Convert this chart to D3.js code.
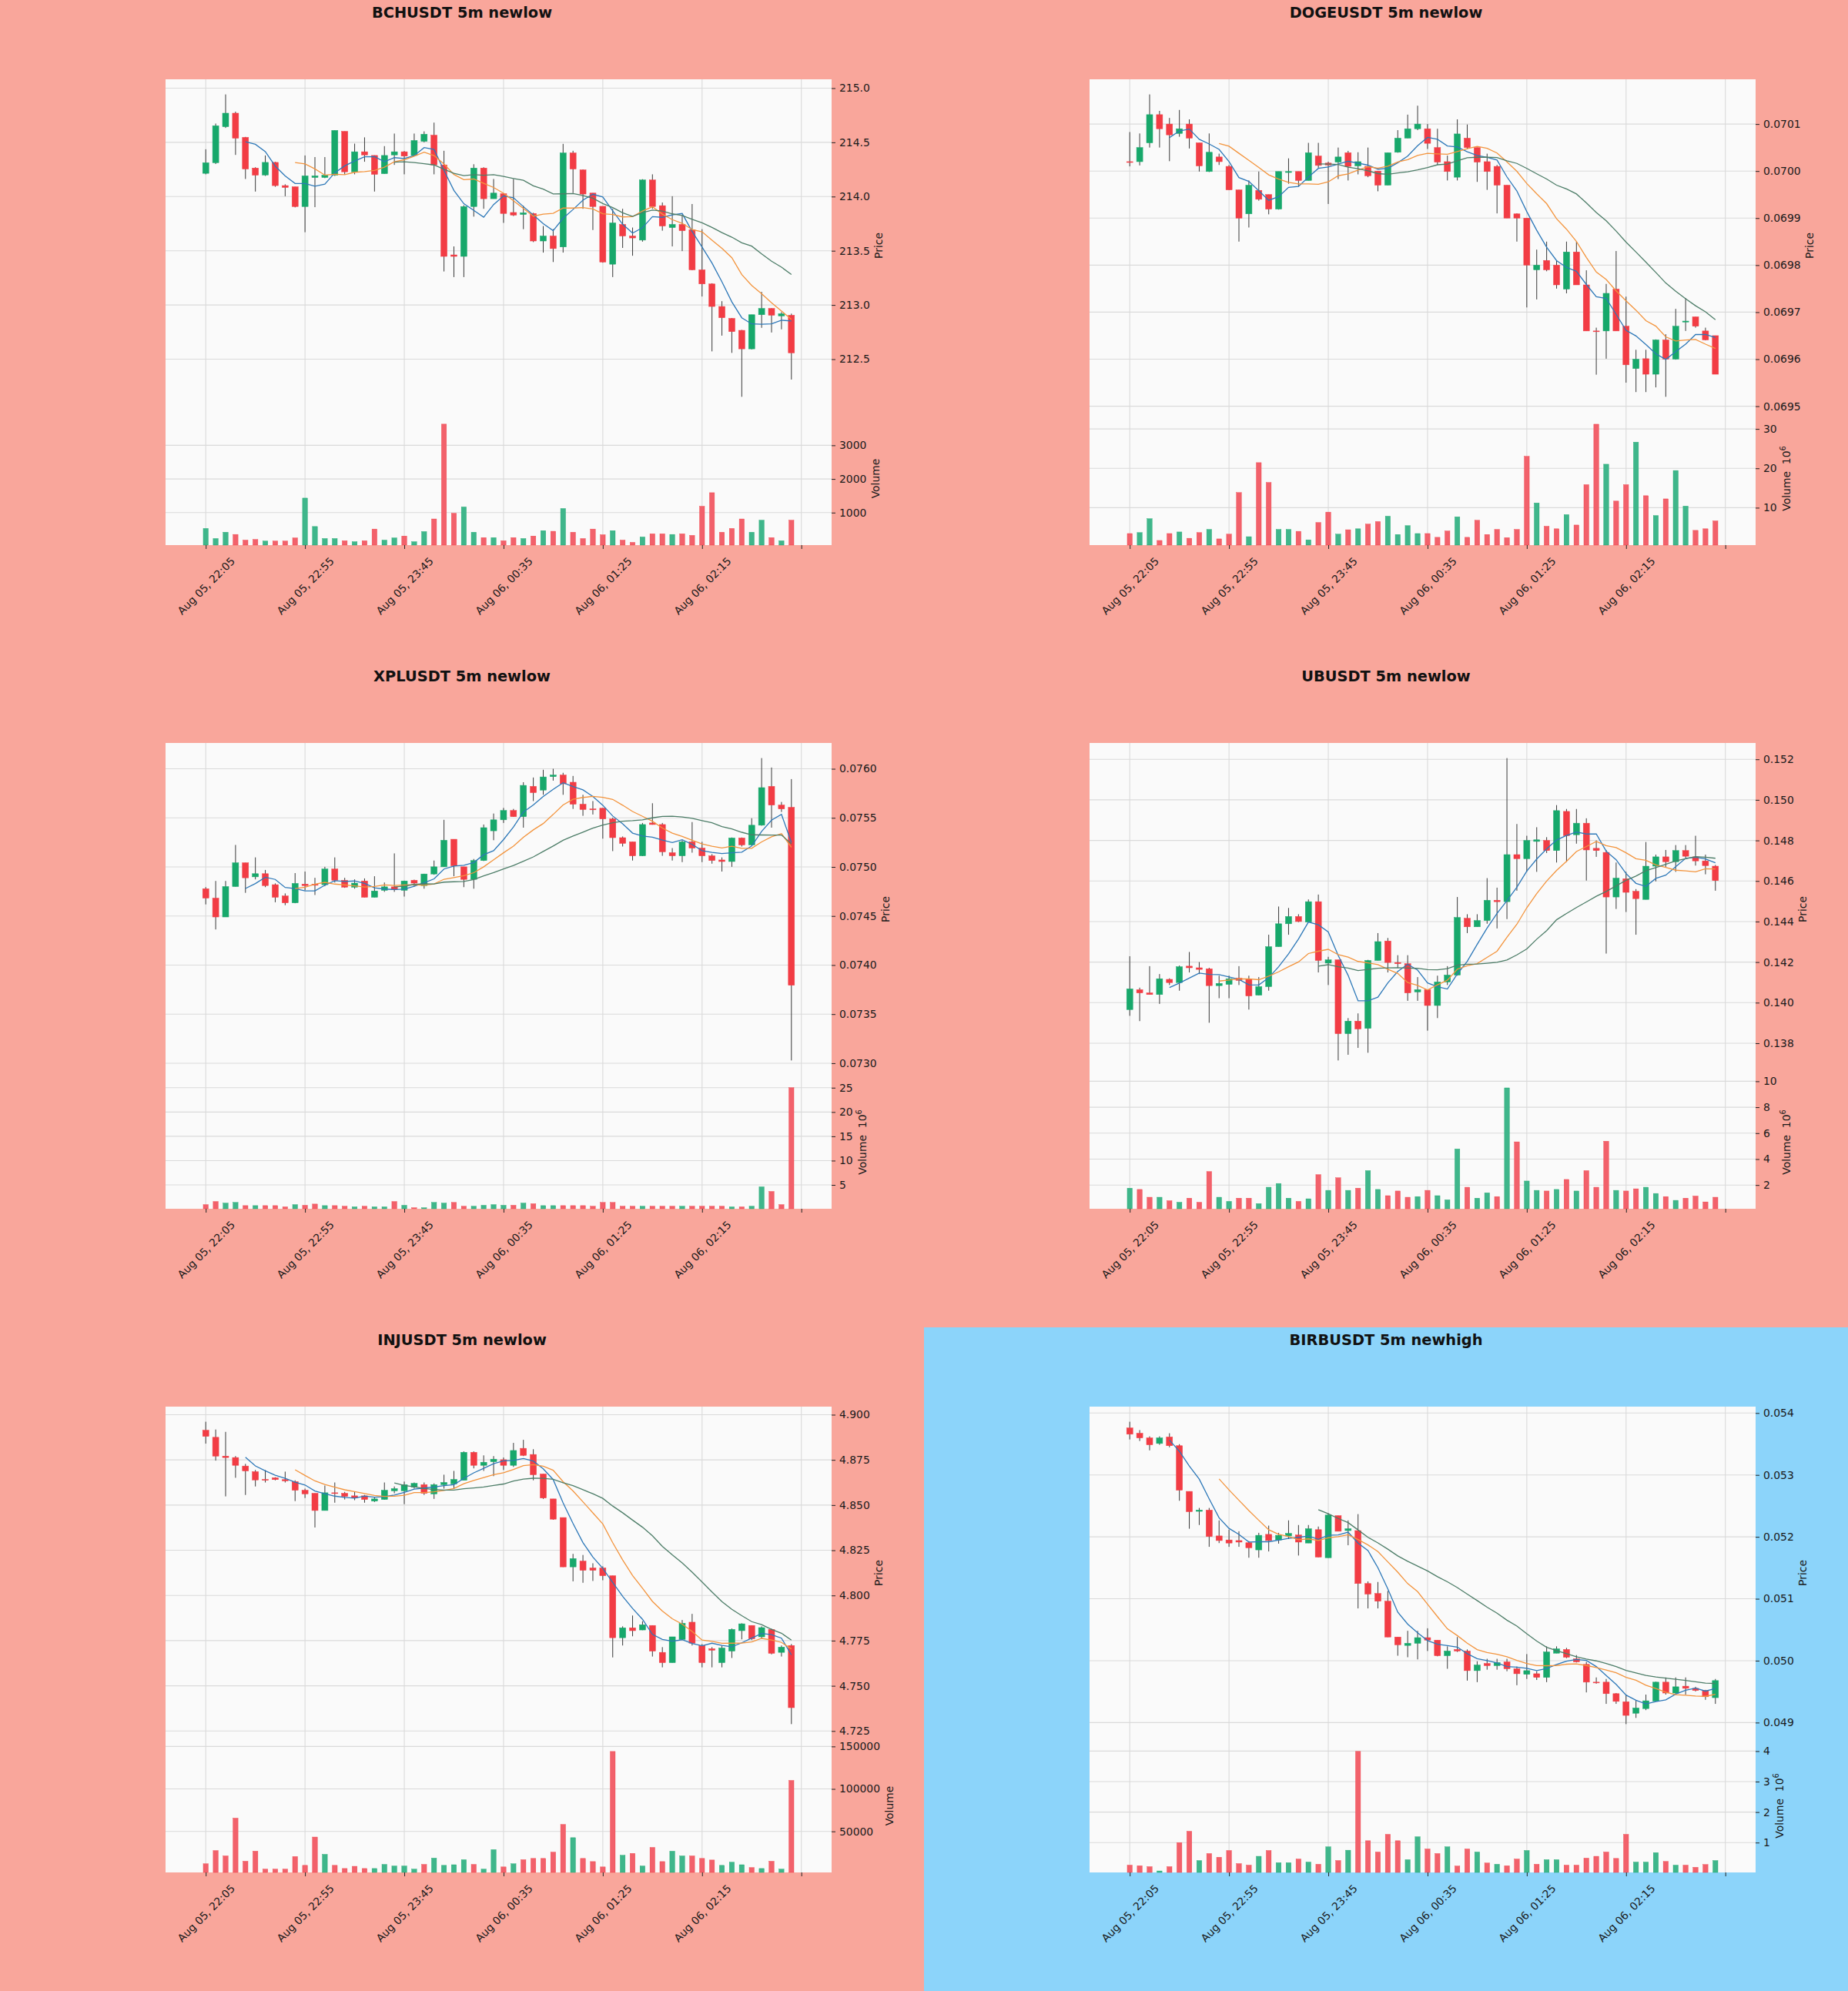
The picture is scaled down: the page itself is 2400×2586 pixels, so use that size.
<!DOCTYPE html>
<html>
<head>
<meta charset="utf-8">
<script src="https://cdn.jsdelivr.net/npm/d3@7"></script>
<style>
  body { margin: 0; background: #ffffff; }
  svg { display: block; }
</style>
</head>
<body>
<div id="chart"></div>
<script>
// ---- data: 60 five-minute candles per symbol ----
const timeTicks = [0, 10, 20, 30, 40, 50, 60];
const timeLabels = ["Aug 05, 22:05", "Aug 05, 22:55", "Aug 05, 23:45", "Aug 06, 00:35", "Aug 06, 01:25", "Aug 06, 02:15", ""];

// BCHUSDT
const bchOpen = [214.214,214.312,214.644,214.769,214.546,214.263,214.199,214.315,214.101,214.090,213.908,214.176,214.176,214.197,214.601,214.228,214.413,214.379,214.211,214.384,214.413,214.379,214.509,214.566,214.292,213.462,213.448,213.908,214.263,213.980,214.026,213.853,213.835,213.844,213.590,213.636,213.535,214.402,214.246,214.032,213.910,213.376,213.743,213.636,213.598,214.153,213.916,213.714,213.743,213.694,213.324,213.194,212.986,212.876,212.766,212.595,212.910,212.968,212.899,212.905];
const bchHigh = [214.436,214.673,214.942,214.783,214.550,214.270,214.379,214.320,214.113,214.090,214.379,214.364,214.364,214.610,214.601,214.488,214.546,214.380,214.465,214.581,214.420,214.581,214.601,214.682,214.422,213.540,213.920,214.298,214.270,214.162,214.030,214.162,213.916,213.850,213.728,213.699,214.486,214.422,214.250,214.032,213.910,213.887,213.887,213.714,214.160,214.205,213.945,214.003,213.829,213.931,213.699,213.200,213.035,212.880,212.770,212.910,213.121,212.970,212.934,212.920];
const bchLow = [214.205,214.300,214.633,214.384,214.162,214.046,214.190,214.090,214.003,213.900,213.671,213.902,214.170,214.190,214.205,214.205,214.321,214.046,214.210,214.292,214.205,214.380,214.500,214.205,213.309,213.257,213.257,213.815,213.887,213.980,213.757,213.820,213.699,213.580,213.483,213.396,213.483,214.032,213.887,213.691,213.390,213.257,213.526,213.454,213.584,213.887,213.685,213.540,213.497,213.320,213.078,212.572,212.717,212.558,212.153,212.590,212.789,212.746,212.775,212.312];
const bchClose = [214.312,214.653,214.769,214.538,214.254,214.197,214.315,214.101,214.084,213.908,214.191,214.191,214.197,214.610,214.228,214.413,214.384,214.205,214.379,214.413,214.373,214.517,214.575,214.292,213.448,213.448,213.908,214.263,213.980,214.032,213.844,213.829,213.850,213.590,213.636,213.520,214.402,214.254,214.023,213.908,213.396,213.757,213.636,213.618,214.153,213.908,213.728,213.743,213.685,213.324,213.194,212.986,212.882,212.754,212.595,212.910,212.968,212.905,212.919,212.558];
const bchVolume = [530,230,418,352,183,202,155,155,155,249,1432,587,230,230,164,136,164,512,183,249,305,136,437,812,3629,981,1169,418,258,258,164,258,230,305,465,446,1122,418,230,512,343,465,183,117,277,371,371,352,371,324,1188,1592,418,530,812,418,775,258,164,775];
const bchPriceTicks = [212.5, 213.0, 213.5, 214.0, 214.5, 215.0];
const bchVolumeTicks = [1000, 2000, 3000];

// DOGEUSDT
const dogeOpen = [0.070020,0.070020,0.070060,0.070120,0.070100,0.070080,0.070100,0.070060,0.069999,0.070030,0.070010,0.069960,0.069909,0.069959,0.069950,0.069919,0.069997,0.069999,0.069980,0.070032,0.070017,0.070019,0.070039,0.070011,0.070010,0.070000,0.069970,0.070040,0.070070,0.070090,0.070090,0.070050,0.070020,0.069987,0.070070,0.070050,0.070020,0.070010,0.069970,0.069909,0.069900,0.069790,0.069810,0.069800,0.069749,0.069828,0.069758,0.069660,0.069660,0.069749,0.069670,0.069580,0.069601,0.069568,0.069641,0.069600,0.069679,0.069690,0.069660,0.069650];
const dogeHigh = [0.070083,0.070080,0.070163,0.070128,0.070113,0.070130,0.070110,0.070060,0.070080,0.070037,0.070013,0.069960,0.069980,0.069999,0.069950,0.069999,0.070027,0.069999,0.070060,0.070060,0.070020,0.070050,0.070043,0.070040,0.070050,0.070000,0.070039,0.070087,0.070120,0.070139,0.070100,0.070090,0.070033,0.070110,0.070099,0.070050,0.070037,0.070013,0.069970,0.069910,0.069900,0.069833,0.069850,0.069810,0.069850,0.069850,0.069789,0.069667,0.069760,0.069830,0.069733,0.069620,0.069620,0.069642,0.069653,0.069707,0.069730,0.069690,0.069667,0.069650];
const dogeLow = [0.070010,0.070012,0.070050,0.070050,0.070021,0.070073,0.070048,0.069999,0.069998,0.070013,0.069960,0.069850,0.069880,0.069937,0.069908,0.069918,0.069973,0.069967,0.069980,0.070007,0.069930,0.069983,0.069980,0.069993,0.069987,0.069957,0.069970,0.070039,0.070070,0.070087,0.070047,0.070013,0.069980,0.069980,0.070047,0.069977,0.069960,0.069910,0.069900,0.069850,0.069710,0.069727,0.069787,0.069750,0.069740,0.069758,0.069660,0.069567,0.069601,0.069660,0.069550,0.069530,0.069530,0.069540,0.069520,0.069599,0.069660,0.069667,0.069640,0.069568];
const dogeClose = [0.070019,0.070050,0.070120,0.070090,0.070077,0.070090,0.070070,0.070011,0.070040,0.070020,0.069960,0.069900,0.069970,0.069940,0.069919,0.069999,0.069999,0.069980,0.070039,0.070012,0.070013,0.070030,0.070010,0.070020,0.069990,0.069970,0.070039,0.070070,0.070090,0.070100,0.070059,0.070019,0.069999,0.070079,0.070050,0.070019,0.069999,0.069970,0.069900,0.069900,0.069800,0.069800,0.069790,0.069758,0.069828,0.069758,0.069660,0.069659,0.069740,0.069660,0.069588,0.069600,0.069568,0.069641,0.069600,0.069670,0.069681,0.069670,0.069641,0.069568];
const dogeVolume = [3.44,3.68,7.2,1.68,3.44,3.84,2.24,3.68,4.48,2.08,3.28,13.84,2.64,21.44,16.4,4.48,4.48,4.0,1.84,6.24,8.88,3.28,4.4,4.64,5.84,6.48,7.84,3.2,5.44,3.44,3.44,2.48,4.08,7.68,2.48,6.8,3.2,4.48,2.4,4.48,23.04,11.2,5.28,4.64,8.24,5.6,15.84,31.2,21.04,11.68,15.84,26.64,13.04,8.0,12.24,19.44,10.4,4.24,4.64,6.64];
const dogePriceTicks = [0.0695, 0.0696, 0.0697, 0.0698, 0.0699, 0.0700, 0.0701];
const dogeVolumeTicks = [10, 20, 30];

// XPLUSDT
const xplOpen = [0.074778,0.074682,0.074490,0.074800,0.075042,0.074899,0.074931,0.074819,0.074704,0.074634,0.074825,0.074825,0.074819,0.074979,0.074864,0.074794,0.074857,0.074691,0.074762,0.074797,0.074762,0.074864,0.074810,0.074928,0.075001,0.075282,0.075001,0.074873,0.075065,0.075368,0.075480,0.075575,0.075512,0.075821,0.075783,0.075920,0.075936,0.075863,0.075639,0.075591,0.075598,0.075489,0.075298,0.075256,0.075113,0.075448,0.075432,0.075145,0.075113,0.075256,0.075192,0.075113,0.075071,0.075055,0.075295,0.075224,0.075425,0.075821,0.075630,0.075607];
const xplHigh = [0.074794,0.074857,0.074857,0.075224,0.075042,0.075097,0.074969,0.074832,0.074730,0.074937,0.074953,0.074889,0.075001,0.075097,0.074889,0.074873,0.074883,0.074905,0.074841,0.075138,0.074860,0.074870,0.074930,0.075065,0.075480,0.075282,0.075001,0.075081,0.075432,0.075544,0.075601,0.075591,0.075863,0.075911,0.075990,0.076000,0.075959,0.075927,0.075735,0.075671,0.075600,0.075502,0.075310,0.075256,0.075448,0.075649,0.075448,0.075192,0.075272,0.075457,0.075256,0.075130,0.075097,0.075300,0.075300,0.075496,0.076109,0.076013,0.075662,0.075895];
const xplLow = [0.074618,0.074363,0.074490,0.074800,0.074736,0.074873,0.074794,0.074640,0.074610,0.074630,0.074762,0.074714,0.074803,0.074841,0.074787,0.074778,0.074690,0.074690,0.074746,0.074746,0.074698,0.074800,0.074778,0.074920,0.075000,0.074905,0.074794,0.074778,0.075060,0.075272,0.075448,0.075510,0.075400,0.075671,0.075735,0.075879,0.075735,0.075591,0.075521,0.075534,0.075288,0.075161,0.075208,0.075065,0.075110,0.075430,0.075113,0.075065,0.075049,0.075145,0.075049,0.075033,0.074953,0.075001,0.075208,0.075220,0.075420,0.075400,0.075560,0.073028];
const xplClose = [0.074682,0.074490,0.074800,0.075042,0.074889,0.074931,0.074810,0.074691,0.074634,0.074832,0.074810,0.074813,0.074979,0.074864,0.074794,0.074835,0.074691,0.074755,0.074797,0.074771,0.074857,0.074835,0.074928,0.075001,0.075272,0.075011,0.074873,0.075065,0.075400,0.075480,0.075575,0.075512,0.075831,0.075757,0.075917,0.075936,0.075847,0.075639,0.075585,0.075582,0.075489,0.075298,0.075240,0.075113,0.075432,0.075432,0.075154,0.075113,0.075256,0.075192,0.075113,0.075065,0.075055,0.075295,0.075224,0.075425,0.075808,0.075630,0.075591,0.073794];
const xplVolume = [0.94,1.58,1.26,1.39,0.74,0.74,0.74,0.74,0.48,0.94,0.81,1.06,0.74,0.74,0.61,0.48,0.61,0.48,0.48,1.58,0.81,0.3,0.3,1.39,1.26,1.39,0.61,0.61,0.81,0.94,0.81,0.81,1.26,1.13,0.74,0.74,0.74,0.74,0.74,0.61,1.39,1.39,0.61,0.61,0.61,0.61,0.61,0.61,0.61,0.61,0.61,0.61,0.61,0.48,0.48,0.61,4.61,3.65,0.94,25.0];
const xplPriceTicks = [0.0730, 0.0735, 0.0740, 0.0745, 0.0750, 0.0755, 0.0760];
const xplVolumeTicks = [5, 10, 15, 20, 25];

// UBUSDT
const ubOpen = [0.13966,0.14064,0.14048,0.14040,0.14115,0.14099,0.14180,0.14172,0.14167,0.14084,0.14090,0.14121,0.14115,0.14037,0.14079,0.14276,0.14389,0.14425,0.14397,0.14498,0.14195,0.14211,0.13847,0.13909,0.13873,0.14208,0.14304,0.14198,0.14192,0.14053,0.14064,0.13986,0.14102,0.14136,0.14416,0.14374,0.14405,0.14505,0.14498,0.14730,0.14710,0.14795,0.14800,0.14750,0.14943,0.14828,0.14885,0.14761,0.14741,0.14521,0.14611,0.14549,0.14509,0.14673,0.14719,0.14695,0.14750,0.14719,0.14699,0.14673];
const ubHigh = [0.14229,0.14074,0.14180,0.14141,0.14120,0.14183,0.14250,0.14200,0.14172,0.14133,0.14133,0.14180,0.14133,0.14126,0.14335,0.14474,0.14467,0.14436,0.14509,0.14533,0.14226,0.14211,0.13924,0.13947,0.14211,0.14343,0.14319,0.14234,0.14234,0.14126,0.14064,0.14133,0.14180,0.14521,0.14436,0.14436,0.14614,0.14567,0.15206,0.14881,0.14823,0.14865,0.14816,0.14974,0.14955,0.14955,0.14909,0.14800,0.14753,0.14691,0.14645,0.14560,0.14792,0.14730,0.14753,0.14777,0.14777,0.14823,0.14730,0.14679];
const ubLow = [0.13935,0.13909,0.14040,0.13994,0.14087,0.14059,0.14149,0.14141,0.13901,0.14022,0.14022,0.14087,0.13966,0.14036,0.14059,0.14276,0.14335,0.14397,0.14396,0.14149,0.14087,0.13715,0.13743,0.13777,0.13753,0.14208,0.14149,0.14172,0.14009,0.14009,0.13862,0.13924,0.14087,0.14133,0.14343,0.14374,0.14389,0.14366,0.14412,0.14552,0.14645,0.14645,0.14738,0.14691,0.14694,0.14784,0.14602,0.14719,0.14242,0.14462,0.14447,0.14335,0.14509,0.14598,0.14668,0.14645,0.14715,0.14676,0.14633,0.14552];
const ubClose = [0.14068,0.14048,0.14040,0.14118,0.14099,0.14177,0.14172,0.14164,0.14084,0.14095,0.14118,0.14110,0.14033,0.14079,0.14276,0.14389,0.14425,0.14400,0.14498,0.14208,0.14211,0.13847,0.13909,0.13870,0.14208,0.14301,0.14198,0.14192,0.14048,0.14064,0.13986,0.14102,0.14136,0.14420,0.14374,0.14405,0.14505,0.14498,0.14730,0.14710,0.14800,0.14803,0.14750,0.14947,0.14823,0.14885,0.14753,0.14750,0.14521,0.14614,0.14544,0.14513,0.14673,0.14719,0.14695,0.14750,0.14722,0.14699,0.14676,0.14602];
const ubVolume = [1.76,1.66,1.06,1.06,0.79,0.67,0.99,0.67,3.04,1.06,0.74,0.99,0.99,0.57,1.83,2.12,0.99,0.74,0.94,2.80,1.59,2.56,1.59,1.76,3.11,1.66,1.18,1.54,1.06,1.11,1.59,1.18,0.86,4.78,1.83,0.99,1.40,1.11,9.49,5.33,2.31,1.59,1.54,1.66,2.43,1.54,3.11,1.83,5.38,1.59,1.54,1.71,1.83,1.35,1.11,0.82,0.99,1.15,0.70,1.06];
const ubPriceTicks = [0.138, 0.140, 0.142, 0.144, 0.146, 0.148, 0.150, 0.152];
const ubVolumeTicks = [2, 4, 6, 8, 10];

// INJUSDT
const injOpen = [4.8914,4.8875,4.8771,4.8763,4.8716,4.8685,4.8642,4.8651,4.8641,4.8630,4.8582,4.8565,4.8470,4.8568,4.8565,4.8551,4.8551,4.8522,4.8531,4.8579,4.8579,4.8599,4.8613,4.8562,4.8613,4.8617,4.8637,4.8792,4.8720,4.8740,4.8751,4.8720,4.8814,4.8780,4.8672,4.8534,4.8431,4.8158,4.8190,4.8152,4.8152,4.8109,4.7766,4.7821,4.7809,4.7834,4.7685,4.7628,4.7757,4.7852,4.7723,4.7705,4.7628,4.7692,4.7805,4.7834,4.7771,4.7812,4.7685,4.7723];
const injHigh = [4.8961,4.8918,4.8905,4.8771,4.8728,4.8694,4.8694,4.8654,4.8685,4.8637,4.8591,4.8565,4.8608,4.8625,4.8573,4.8574,4.8556,4.8544,4.8625,4.8603,4.8630,4.8625,4.8625,4.8620,4.8668,4.8689,4.8797,4.8797,4.8775,4.8771,4.8763,4.8844,4.8861,4.8809,4.8672,4.8534,4.8431,4.8230,4.8224,4.8178,4.8161,4.8109,4.7829,4.7889,4.7857,4.7834,4.7714,4.7771,4.7864,4.7898,4.7731,4.7714,4.7723,4.7817,4.7846,4.7834,4.7829,4.7817,4.7723,4.7731];
const injLow = [4.8840,4.8746,4.8548,4.8651,4.8556,4.8603,4.8625,4.8637,4.8625,4.8522,4.8539,4.8376,4.8470,4.8513,4.8531,4.8527,4.8513,4.8517,4.8530,4.8565,4.8505,4.8591,4.8556,4.8534,4.8591,4.8591,4.8637,4.8703,4.8689,4.8660,4.8694,4.8711,4.8771,4.8637,4.8534,4.8419,4.8157,4.8078,4.8070,4.8080,4.8084,4.7657,4.7723,4.7774,4.7808,4.7662,4.7602,4.7628,4.7753,4.7723,4.7602,4.7602,4.7602,4.7654,4.7757,4.7753,4.7760,4.7674,4.7662,4.7288];
const injClose = [4.8880,4.8771,4.8763,4.8720,4.8689,4.8639,4.8637,4.8641,4.8634,4.8582,4.8562,4.8470,4.8568,4.8565,4.8548,4.8539,4.8531,4.8534,4.8582,4.8591,4.8613,4.8620,4.8565,4.8613,4.8625,4.8642,4.8792,4.8720,4.8737,4.8754,4.8720,4.8802,4.8775,4.8668,4.8539,4.8422,4.8158,4.8204,4.8139,4.8139,4.8109,4.7766,4.7821,4.7805,4.7838,4.7692,4.7628,4.7771,4.7846,4.7736,4.7628,4.7697,4.7709,4.7812,4.7843,4.7760,4.7822,4.7680,4.7714,4.7379];
const injVolume = [11848,27406,21109,65557,14811,26665,5552,5552,5552,20368,9996,43333,22961,9996,6293,8885,6293,6293,11108,9256,9256,5552,11108,18516,9996,10737,16664,11108,5552,28517,8145,11848,16664,18146,18146,25553,58149,42592,18146,14441,8145,144082,21849,24072,9256,31110,14441,26665,21109,21109,18146,16294,9996,13700,10737,7404,6293,14811,5552,110005];
const injPriceTicks = [4.725, 4.750, 4.775, 4.800, 4.825, 4.850, 4.875, 4.900];
const injVolumeTicks = [50000, 100000, 150000];

// BIRBUSDT
const birbOpen = [0.053759,0.053673,0.053598,0.053508,0.053613,0.053472,0.052734,0.052412,0.052432,0.052015,0.051950,0.051940,0.051905,0.051789,0.052040,0.051950,0.052015,0.052030,0.051900,0.052116,0.051663,0.052342,0.052101,0.052101,0.051246,0.051085,0.050960,0.050382,0.050246,0.050281,0.050372,0.050332,0.050080,0.050181,0.050156,0.049839,0.049955,0.049920,0.049980,0.049869,0.049779,0.049789,0.049729,0.050121,0.050181,0.050030,0.049940,0.049653,0.049653,0.049467,0.049337,0.049151,0.049226,0.049347,0.049653,0.049477,0.049588,0.049553,0.049518,0.049402];
const birbHigh = [0.053859,0.053724,0.053623,0.053623,0.053673,0.053497,0.052734,0.052467,0.052467,0.052266,0.052116,0.052090,0.051930,0.052065,0.052181,0.052065,0.052266,0.052191,0.052191,0.052166,0.052382,0.052342,0.052266,0.052367,0.051280,0.051271,0.051126,0.050382,0.050482,0.050482,0.050523,0.050330,0.050231,0.050382,0.050181,0.049990,0.050030,0.050030,0.050030,0.049905,0.050106,0.049830,0.050231,0.050231,0.050206,0.050090,0.049980,0.049729,0.049704,0.049477,0.049452,0.049352,0.049452,0.049660,0.049729,0.049729,0.049729,0.049578,0.049528,0.049704];
const birbLow = [0.053573,0.053548,0.053397,0.053487,0.053447,0.052583,0.052131,0.052191,0.051839,0.051899,0.051839,0.051839,0.051663,0.051663,0.051764,0.051890,0.051965,0.051698,0.051900,0.051670,0.051660,0.052090,0.051864,0.050844,0.050844,0.050844,0.050380,0.050080,0.050055,0.050020,0.050156,0.050070,0.049869,0.050140,0.049678,0.049653,0.049854,0.049854,0.049829,0.049603,0.049704,0.049688,0.049653,0.050120,0.050040,0.049970,0.049487,0.049628,0.049302,0.049302,0.048975,0.049075,0.049201,0.049340,0.049452,0.049452,0.049452,0.049503,0.049367,0.049302];
const birbClose = [0.053658,0.053598,0.053487,0.053598,0.053472,0.052754,0.052407,0.052432,0.052005,0.051940,0.051900,0.051915,0.051824,0.052025,0.051940,0.052025,0.052055,0.051915,0.052131,0.051673,0.052352,0.052090,0.052131,0.051246,0.051075,0.050960,0.050382,0.050256,0.050281,0.050372,0.050332,0.050080,0.050156,0.050156,0.049839,0.049930,0.049920,0.049970,0.049869,0.049789,0.049839,0.049729,0.050141,0.050191,0.050055,0.049980,0.049653,0.049643,0.049467,0.049342,0.049116,0.049236,0.049352,0.049653,0.049477,0.049578,0.049553,0.049518,0.049417,0.049678];
const birbVolume = [0.26,0.24,0.21,0.07,0.21,1.0,1.37,0.41,0.64,0.52,0.74,0.31,0.26,0.55,0.74,0.34,0.34,0.46,0.36,0.29,0.86,0.41,0.75,3.99,1.06,0.69,1.27,1.06,0.44,1.19,0.79,0.64,0.86,0.23,0.79,0.69,0.33,0.29,0.24,0.46,0.74,0.29,0.44,0.44,0.26,0.26,0.49,0.55,0.69,0.48,1.27,0.36,0.36,0.67,0.38,0.26,0.26,0.19,0.28,0.41];
const birbPriceTicks = [0.049, 0.050, 0.051, 0.052, 0.053, 0.054];
const birbVolumeTicks = [1, 2, 3, 4];

const maWindows = [5, 10, 20];

// panel table built from the arrays above
const panels = [
  { symbol: "BCHUSDT", signal: "newlow", o: bchOpen, h: bchHigh, l: bchLow, c: bchClose, v: bchVolume, volExp: 0, pTicks: bchPriceTicks, pFmt: ".1f", vTicks: bchVolumeTicks },
  { symbol: "DOGEUSDT", signal: "newlow", o: dogeOpen, h: dogeHigh, l: dogeLow, c: dogeClose, v: dogeVolume, volExp: 6, pTicks: dogePriceTicks, pFmt: ".4f", vTicks: dogeVolumeTicks },
  { symbol: "XPLUSDT", signal: "newlow", o: xplOpen, h: xplHigh, l: xplLow, c: xplClose, v: xplVolume, volExp: 6, pTicks: xplPriceTicks, pFmt: ".4f", vTicks: xplVolumeTicks },
  { symbol: "UBUSDT", signal: "newlow", o: ubOpen, h: ubHigh, l: ubLow, c: ubClose, v: ubVolume, volExp: 6, pTicks: ubPriceTicks, pFmt: ".3f", vTicks: ubVolumeTicks },
  { symbol: "INJUSDT", signal: "newlow", o: injOpen, h: injHigh, l: injLow, c: injClose, v: injVolume, volExp: 0, pTicks: injPriceTicks, pFmt: ".3f", vTicks: injVolumeTicks },
  { symbol: "BIRBUSDT", signal: "newhigh", o: birbOpen, h: birbHigh, l: birbLow, c: birbClose, v: birbVolume, volExp: 6, pTicks: birbPriceTicks, pFmt: ".3f", vTicks: birbVolumeTicks }
];

// ---- layout / style ----
const cellW = 1200, cellH = 862;
const plot = { left: 215, right: 1080, top: 103, split: 535, bottom: 708 };
const font = "DejaVu Sans";
const bgColor = { newlow: "#f9a69b", newhigh: "#8cd4fa" };
const upColor = "#17a86b", downColor = "#f23c44";
const volUp = "#3fb68b", volDown = "#f2616b";
const maColors = ["#2d78b8", "#f3943d", "#4d7d68"];
const gridColor = "#dadada";

const svg = d3.select("#chart")
  .append("svg")
  .attr("width", cellW * 2)
  .attr("height", cellH * 3);

function sma(values, n) {
  return values.map((_, i) => i < n - 1 ? null : d3.mean(values.slice(i - n + 1, i + 1)));
}

panels.forEach(function (p, k) {
  const n = p.c.length;
  const g = svg.append("g")
    .attr("transform", `translate(${(k % 2) * cellW},${Math.floor(k / 2) * cellH})`);

  g.append("rect").attr("width", cellW).attr("height", cellH).attr("fill", bgColor[p.signal]);

  // title
  g.append("text")
    .attr("x", cellW / 2).attr("y", 23)
    .attr("text-anchor", "middle")
    .style("font-family", font).style("font-size", "19.4px").style("font-weight", "bold")
    .style("fill", "#111")
    .text(`${p.symbol} 5m ${p.signal}`);

  // scales (5% margins like matplotlib)
  const xPad = 0.05 * (n + 1);
  const x = d3.scaleLinear().domain([-1 - xPad, n + xPad]).range([plot.left, plot.right]);
  const lo = d3.min(p.l), hi = d3.max(p.h), r = hi - lo;
  const y = d3.scaleLinear().domain([lo - 0.05 * r, hi + 0.05 * r]).range([plot.split, plot.top]);
  const yv = d3.scaleLinear().domain([0.3 * d3.min(p.v), 1.1 * d3.max(p.v)]).range([plot.bottom, plot.split]);
  const step = x(1) - x(0);

  // plot backgrounds
  g.append("rect").attr("x", plot.left).attr("y", plot.top)
    .attr("width", plot.right - plot.left).attr("height", plot.split - plot.top).attr("fill", "#fafafa");
  g.append("rect").attr("x", plot.left).attr("y", plot.split)
    .attr("width", plot.right - plot.left).attr("height", plot.bottom - plot.split).attr("fill", "#fafafa");

  // grid
  const pTicks = p.pTicks.filter(t => t >= y.domain()[0] && t <= y.domain()[1]);
  const vTicks = p.vTicks.filter(t => t >= yv.domain()[0] && t <= yv.domain()[1]);
  const grid = g.append("g").attr("stroke", gridColor).attr("stroke-width", 1.1);
  grid.selectAll(".hp").data(pTicks).join("line")
    .attr("x1", plot.left).attr("x2", plot.right)
    .attr("y1", d => y(d)).attr("y2", d => y(d));
  grid.selectAll(".hv").data(vTicks).join("line")
    .attr("x1", plot.left).attr("x2", plot.right)
    .attr("y1", d => yv(d)).attr("y2", d => yv(d));
  grid.selectAll(".vx").data(timeTicks).join("line")
    .attr("x1", d => x(d)).attr("x2", d => x(d))
    .attr("y1", plot.top).attr("y2", plot.bottom);

  const idx = d3.range(n);

  // volume bars
  g.append("g").selectAll("rect").data(idx).join("rect")
    .attr("x", i => x(i) - step * 0.25)
    .attr("width", step * 0.5)
    .attr("y", i => yv(p.v[i]))
    .attr("height", i => Math.max(0.5, plot.bottom - yv(p.v[i])))
    .attr("fill", i => p.c[i] >= p.o[i] ? volUp : volDown)
    .attr("stroke", i => p.c[i] >= p.o[i] ? upColor : downColor)
    .attr("stroke-width", 0.4);

  // wicks
  g.append("g").selectAll("line").data(idx).join("line")
    .attr("x1", i => x(i)).attr("x2", i => x(i))
    .attr("y1", i => y(p.h[i])).attr("y2", i => y(p.l[i]))
    .attr("stroke", "#3a3a3a").attr("stroke-width", 1);

  // bodies
  const bodyW = step * 0.62;
  g.append("g").selectAll("rect").data(idx).join("rect")
    .attr("x", i => x(i) - bodyW / 2)
    .attr("width", bodyW)
    .attr("y", i => y(Math.max(p.o[i], p.c[i])))
    .attr("height", i => Math.max(1, Math.abs(y(p.o[i]) - y(p.c[i]))))
    .attr("fill", i => p.c[i] >= p.o[i] ? upColor : downColor)
    .attr("stroke", i => p.c[i] >= p.o[i] ? upColor : downColor)
    .attr("stroke-width", 0.5);

  // moving averages
  maWindows.forEach(function (w, j) {
    const ma = sma(p.c, w);
    const line = d3.line()
      .defined(i => ma[i] != null)
      .x(i => x(i))
      .y(i => y(ma[i]));
    g.append("path").datum(idx)
      .attr("d", line)
      .attr("fill", "none")
      .attr("stroke", maColors[j])
      .attr("stroke-width", 1.3);
  });

  // right axes
  const styleAxis = sel => {
    sel.select(".domain").remove();
    sel.selectAll("line").attr("stroke", "#222");
    sel.selectAll("text").style("font-family", font).style("font-size", "13.9px").style("fill", "#1a1a1a");
  };
  const pAxis = g.append("g").attr("transform", `translate(${plot.right},0)`)
    .call(d3.axisRight(y).tickValues(pTicks).tickFormat(d3.format(p.pFmt)).tickSize(5).tickPadding(5))
    .call(styleAxis);
  const vAxis = g.append("g").attr("transform", `translate(${plot.right},0)`)
    .call(d3.axisRight(yv).tickValues(vTicks).tickFormat(d3.format("d")).tickSize(5).tickPadding(5))
    .call(styleAxis);

  const widest = sel => d3.max(sel.selectAll("text").nodes(), t => t.getComputedTextLength());

  g.append("text")
    .attr("transform", `translate(${plot.right + 10 + widest(pAxis) + 11},${(plot.top + plot.split) / 2}) rotate(-90)`)
    .attr("text-anchor", "middle").attr("dominant-baseline", "central")
    .style("font-family", font).style("font-size", "13.9px").style("fill", "#1a1a1a")
    .text("Price");

  const vLabel = g.append("text")
    .attr("transform", `translate(${plot.right + 10 + widest(vAxis) + 12},${(plot.split + plot.bottom) / 2}) rotate(-90)`)
    .attr("text-anchor", "middle").attr("dominant-baseline", "central")
    .style("font-family", font).style("font-size", "13.9px").style("fill", "#1a1a1a")
    .style("white-space", "pre");
  if (p.volExp) {
    vLabel.append("tspan").text("Volume  10");
    vLabel.append("tspan").attr("dy", "-0.45em").style("font-size", "9.8px").text(p.volExp);
  } else {
    vLabel.text("Volume");
  }

  // time axis
  g.append("g").attr("transform", `translate(0,${plot.bottom})`)
    .call(d3.axisBottom(x).tickValues(timeTicks).tickFormat((d, i) => timeLabels[i]).tickSize(5))
    .call(styleAxis)
    .selectAll("text")
    .attr("y", 0).attr("dy", null)
    .attr("text-anchor", "middle").attr("dominant-baseline", "central")
    .attr("transform", "translate(0,53) rotate(-45)");
});
</script>
</body>
</html>
